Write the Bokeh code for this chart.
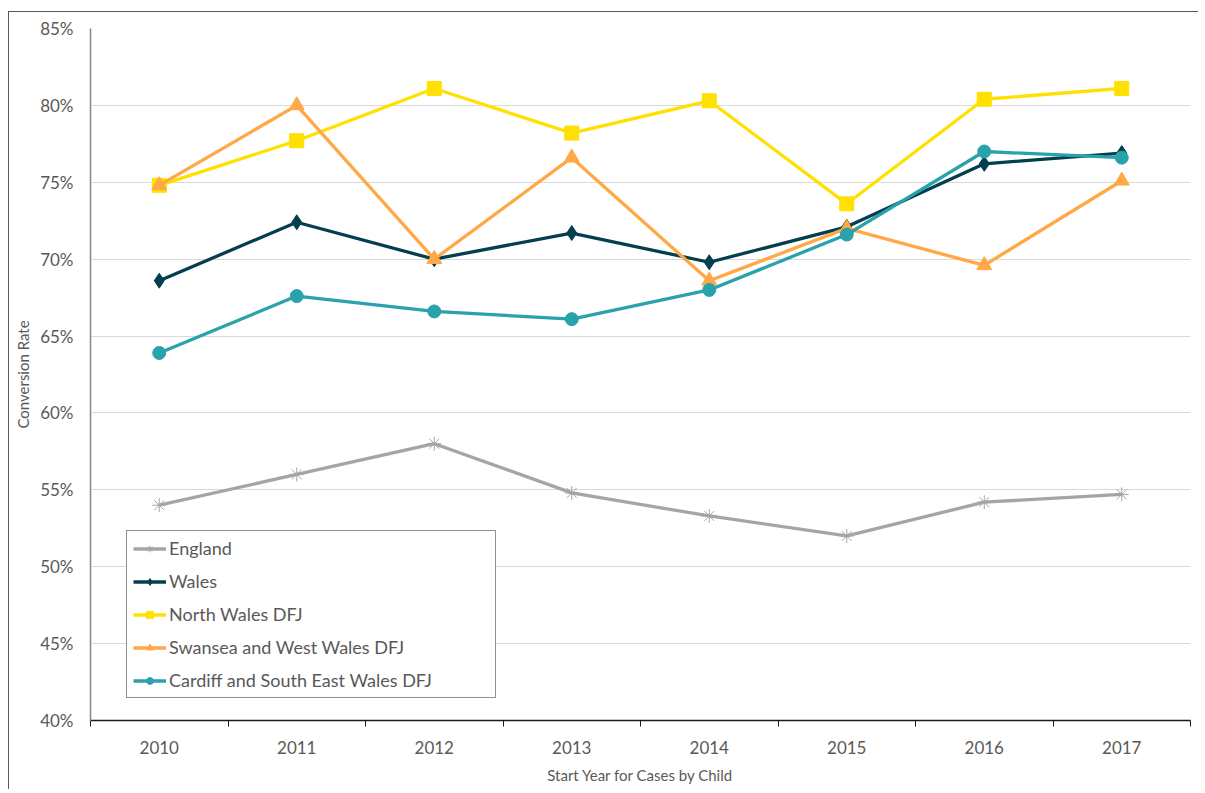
from bokeh.plotting import figure
from bokeh.models import Range1d, FixedTicker, NumeralTickFormatter, Legend, LegendItem
from bokeh.embed import file_html
from bokeh.resources import INLINE

years = [2010, 2011, 2012, 2013, 2014, 2015, 2016, 2017]
england = [0.540, 0.560, 0.580, 0.548, 0.533, 0.520, 0.542, 0.547]
wales = [0.686, 0.724, 0.700, 0.717, 0.698, 0.721, 0.762, 0.769]
north_wales = [0.748, 0.777, 0.811, 0.782, 0.803, 0.736, 0.804, 0.811]
swansea = [0.748, 0.800, 0.700, 0.766, 0.686, 0.720, 0.696, 0.751]
cardiff = [0.639, 0.676, 0.666, 0.661, 0.680, 0.716, 0.770, 0.766]
y_ticks = [0.40, 0.45, 0.50, 0.55, 0.60, 0.65, 0.70, 0.75, 0.80, 0.85]
boundaries = [y - 0.5 for y in years] + [years[-1] + 0.5]

FONT = "Lato"
TXT = "#595959"

p = figure(width=1190, height=778, output_backend="svg", toolbar_location=None,
           x_range=Range1d(2009.5, 2017.5), y_range=Range1d(0.40, 0.85),
           min_border_left=81, min_border_right=9, min_border_top=16, min_border_bottom=70)
p.styles = {"margin-top": "11px", "margin-left": "8px",
            "border-top": "1px solid #595959", "border-left": "1px solid #595959"}
p.outline_line_color = None
p.background_fill_color = "white"
p.border_fill_color = "white"

# axes
p.xaxis.ticker = FixedTicker(ticks=years, minor_ticks=boundaries)
p.xaxis.major_tick_out = 0
p.xaxis.major_tick_in = 0
p.xaxis.minor_tick_out = 6
p.xaxis.minor_tick_in = 0
p.xaxis.minor_tick_line_color = "#1a1a1a"
p.xaxis.axis_line_color = "#1a1a1a"
p.xaxis.axis_line_width = 1.5
p.xaxis.major_label_standoff = 14
p.xaxis.major_label_text_font = FONT
p.xaxis.major_label_text_font_size = "17px"
p.xaxis.major_label_text_color = TXT
p.xaxis.axis_label = "Start Year for Cases by Child"
p.xaxis.axis_label_text_font = FONT
p.xaxis.axis_label_text_font_size = "15px"
p.xaxis.axis_label_text_font_style = "normal"
p.xaxis.axis_label_text_color = TXT
p.xaxis.axis_label_standoff = 9

p.yaxis.ticker = FixedTicker(ticks=y_ticks, minor_ticks=[])
p.yaxis.formatter = NumeralTickFormatter(format="0%")
p.yaxis.major_tick_out = 0
p.yaxis.major_tick_in = 0
p.yaxis.axis_line_color = "#868686"
p.yaxis.axis_line_width = 1.5
p.yaxis.major_label_standoff = 17
p.yaxis.major_label_text_font = FONT
p.yaxis.major_label_text_font_size = "17px"
p.yaxis.major_label_text_color = TXT
p.yaxis.axis_label = "Conversion Rate"
p.yaxis.axis_label_text_font = FONT
p.yaxis.axis_label_text_font_size = "15px"
p.yaxis.axis_label_text_font_style = "normal"
p.yaxis.axis_label_text_color = TXT
p.yaxis.axis_label_standoff = 5

p.xgrid.grid_line_color = None
p.ygrid.grid_line_color = "#d9d9d9"
p.ygrid.grid_line_width = 1

series = [
    ("England", england, "#a5a5a5", "asterisk", 14),
    ("Wales", wales, "#033f4f", "diamond", 15),
    ("North Wales DFJ", north_wales, "#ffe000", "square", 14),
    ("Swansea and West Wales DFJ", swansea, "#ffa845", "triangle", 15),
    ("Cardiff and South East Wales DFJ", cardiff, "#2aa2ac", "circle", 13),
]

items = []
for name, vals, color, marker, size in series:
    ln = p.line(years, vals, line_color=color, line_width=3.3)
    if marker == "asterisk":
        sc = p.scatter(years, vals, marker=marker, size=size, line_color=color, line_width=1)
    else:
        sc = p.scatter(years, vals, marker=marker, size=size, fill_color=color, line_color=color)
    items.append(LegendItem(label=name, renderers=[ln, sc]))

legend = Legend(items=items, location=(36, 22), orientation="vertical",
                padding=6, spacing=11, glyph_width=33, glyph_height=17,
                label_height=17, label_standoff=3, label_width=320,
                label_text_font=FONT, label_text_font_size="18px",
                label_text_color=TXT, border_line_color="#262626", border_line_width=1,
                background_fill_color="white", background_fill_alpha=1.0,
                margin=0)
p.add_layout(legend, "center")

open("out.html", "w").write(file_html(p, INLINE))
